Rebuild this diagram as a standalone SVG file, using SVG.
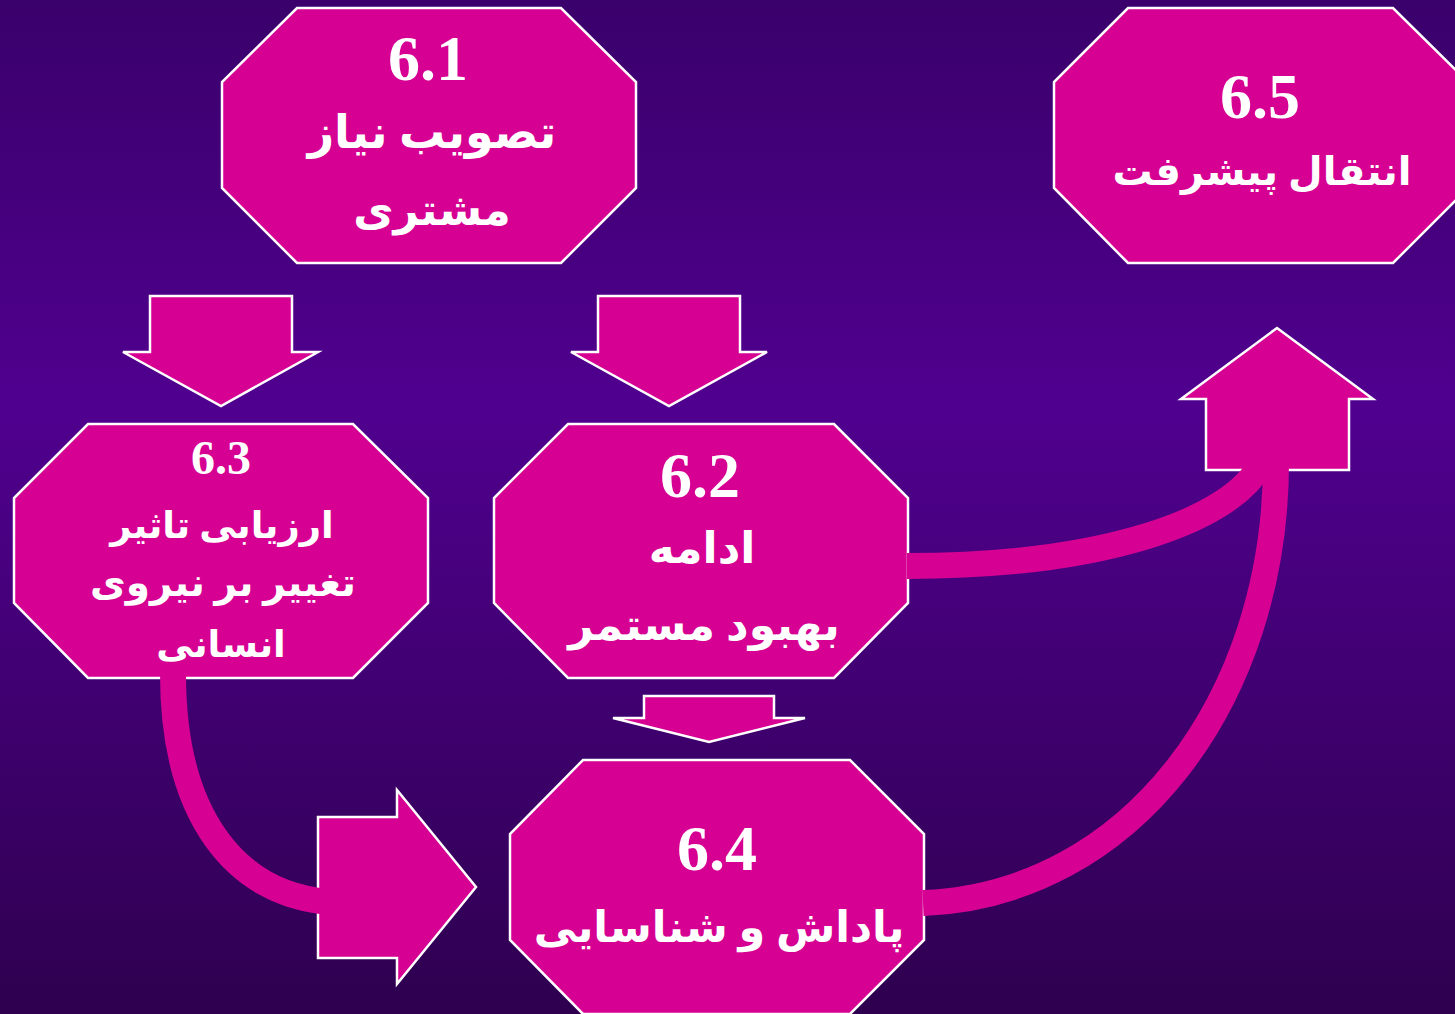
<svg xmlns="http://www.w3.org/2000/svg" width="1455" height="1014" viewBox="0 0 1455 1014">
<defs>
<linearGradient id="bg" x1="0" y1="0" x2="0" y2="1">
<stop offset="0" stop-color="#3a006b"/>
<stop offset="0.4" stop-color="#50008f"/>
<stop offset="1" stop-color="#2e004f"/>
</linearGradient>
</defs>
<style>
.box{fill:#d60093;stroke:#ffffff;stroke-width:2.5}
.arr{fill:#d60093;stroke:#ffffff;stroke-width:2.5}
.flow{fill:none;stroke:#d60093;stroke-width:26}
.num{font-family:"Liberation Serif","Times New Roman",serif;font-weight:bold;fill:#ffffff;text-anchor:middle}
.fa{font-family:"Liberation Serif","DejaVu Sans",sans-serif;font-weight:bold;fill:#ffffff;text-anchor:middle}
</style>
<rect width="1455" height="1014" fill="url(#bg)"/>
<g id="node-6-1">
<polygon class="box" points="297,8 561,8 636,82 636,188 561,263 297,263 222,188 222,82"/>
<text class="num" x="428" y="80" font-size="64">6.1</text>
<text class="fa" x="432" y="148" font-size="46" direction="rtl">تصویب نیاز</text>
<text class="fa" x="432" y="225" font-size="44" direction="rtl">مشتری</text>
</g>
<g id="node-6-5">
<polygon class="box" points="1128,8 1393,8 1468,82 1468,188 1393,263 1128,263 1054,188 1054,82"/>
<text class="num" x="1260" y="118" font-size="64">6.5</text>
<text class="fa" x="1262" y="185" font-size="40" direction="rtl">انتقال پیشرفت</text>
</g>
<g id="node-6-3">
<polygon class="box" points="88,424 353,424 428,498 428,603 353,678 88,678 14,603 14,498"/>
<text class="num" x="221" y="474" font-size="48">6.3</text>
<text class="fa" x="222" y="538" font-size="37" direction="rtl">ارزیابی تاثیر</text>
<text class="fa" x="223" y="596" font-size="39" direction="rtl">تغییر بر نیروی</text>
<text class="fa" x="221" y="657" font-size="37" direction="rtl">انسانی</text>
</g>
<g id="node-6-2">
<polygon class="box" points="568,424 834,424 908,498 908,603 834,678 568,678 494,603 494,498"/>
<text class="num" x="700" y="497" font-size="64">6.2</text>
<text class="fa" x="702" y="563" font-size="44" direction="rtl">ادامه</text>
<text class="fa" x="704" y="640" font-size="44" direction="rtl">بهبود مستمر</text>
</g>
<g id="node-6-4">
<polygon class="box" points="583,760 850,760 924,834 924,940 850,1014 583,1014 510,940 510,834"/>
<text class="num" x="717" y="870" font-size="64">6.4</text>
<text class="fa" x="719" y="942" font-size="43" direction="rtl">پاداش و شناسایی</text>
</g>
<g id="arrows">
<polygon class="arr" points="150,296 292,296 292,352 318,352 221,406 123,352 150,352"/>
<polygon class="arr" points="598,296 740,296 740,352 767,352 669,406 571,352 598,352"/>
<polygon class="arr" points="644,696 774,696 774,718 805,718 709,742 613,718 644,718"/>
<polygon class="arr" points="1277,328 1373,399 1349,399 1349,470 1206,470 1206,399 1181,399"/>
<polygon class="arr" points="318,817 397,817 397,790 476,887 397,984 397,958 318,958"/>
</g>
<g id="connectors">
<path class="flow" d="M173,674 C173,815 235,895 330,902"/>
<path class="flow" d="M907,566 C1100,566 1232,522 1262,462"/>
<path class="flow" d="M923,903 C1130,895 1276,700 1276,462"/>
</g>
</svg>
